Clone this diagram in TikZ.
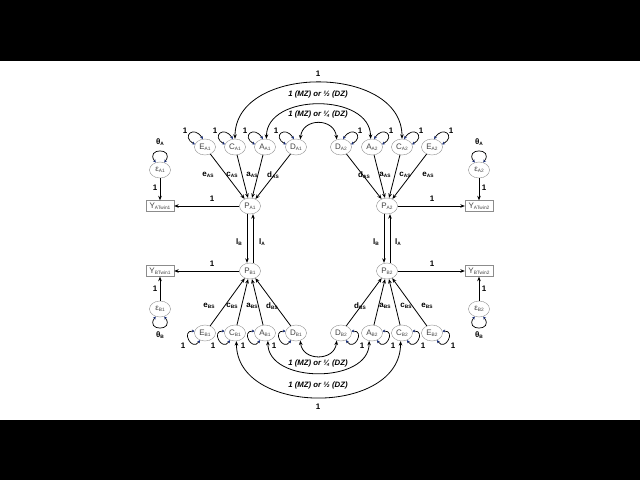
\documentclass[tikz,border=0pt]{standalone}
\usepackage{fontspec}
\setmainfont{Liberation Sans}
\usetikzlibrary{arrows.meta,shapes.geometric}
\definecolor{ndgray}{HTML}{8C8C8C}
\definecolor{txtgray}{HTML}{444444}
\definecolor{loopblue}{HTML}{1A2F7A}
\newcommand\lsub[1]{\raisebox{-0.35ex}{\fontsize{4.8}{5}\selectfont #1}}
\begin{document}
\begin{tikzpicture}[x=1pt,y=-1pt,
 lat/.style={ellipse,draw=ndgray,fill=white,minimum width=21pt,minimum height=16pt,inner sep=0pt,text=txtgray,font=\fontsize{8}{9}\selectfont},
 obs/.style={rectangle,draw=ndgray,fill=white,minimum width=28pt,minimum height=11pt,inner sep=0pt,text=txtgray,font=\fontsize{8}{9}\selectfont},
 arr/.style={-{Stealth[length=4.5pt,width=3.6pt]},line width=0.8pt},
 darr/.style={{Stealth[length=4.5pt,width=3.6pt]}-{Stealth[length=4.5pt,width=3.6pt]},line width=0.8pt},
 sloop/.style={{Stealth[length=2.8pt,width=3pt,color=loopblue]}-{Stealth[length=2.8pt,width=3pt,color=loopblue]},line width=0.7pt},
 lab/.style={font=\bfseries\fontsize{8}{9}\selectfont,inner sep=0pt},
 ilab/.style={font=\bfseries\itshape\fontsize{7.8}{9}\selectfont,inner sep=0pt},
]
% background / letterbox
\fill[black] (0,0) rectangle (640,61);
\fill[white] (0,61) rectangle (640,420);
\fill[black] (0,420) rectangle (640,480);

% latent ACE, twin 1, phenotype A
\node[lat] (EA1) at (205,147) {E\lsub{A1}};
\node[lat] (CA1) at (235,147) {C\lsub{A1}};
\node[lat] (AA1) at (265,147) {A\lsub{A1}};
\node[lat] (DA1) at (296,147) {D\lsub{A1}};
% twin 2, phenotype A
\node[lat] (DA2) at (341,147) {D\lsub{A2}};
\node[lat] (AA2) at (372,147) {A\lsub{A2}};
\node[lat] (CA2) at (402,147) {C\lsub{A2}};
\node[lat] (EA2) at (432,147) {E\lsub{A2}};
% bottom row
\node[lat] (EB1) at (205,333) {E\lsub{B1}};
\node[lat] (CB1) at (235,333) {C\lsub{B1}};
\node[lat] (AB1) at (265,333) {A\lsub{B1}};
\node[lat] (DB1) at (296,333) {D\lsub{B1}};
\node[lat] (DB2) at (341,333) {D\lsub{B2}};
\node[lat] (AB2) at (372,333) {A\lsub{B2}};
\node[lat] (CB2) at (402,333) {C\lsub{B2}};
\node[lat] (EB2) at (432,333) {E\lsub{B2}};
% phenotypes
\node[lat] (PA1) at (250,206) {P\lsub{A1}};
\node[lat] (PB1) at (250,271) {P\lsub{B1}};
\node[lat] (PA2) at (387,206) {P\lsub{A2}};
\node[lat] (PB2) at (387,271) {P\lsub{B2}};
% residuals
\node[lat] (epA1) at (160,170) {ε\lsub{A1}};
\node[lat] (epA2) at (479,170) {ε\lsub{A2}};
\node[lat] (epB1) at (160,309) {ε\lsub{B1}};
\node[lat] (epB2) at (479,309) {ε\lsub{B2}};
% observed
\node[obs] (YA1) at (160,206) {Y\lsub{ATwin1}};
\node[obs] (YB1) at (160,271) {Y\lsub{BTwin1}};
\node[obs] (YA2) at (479,206) {Y\lsub{ATwin2}};
\node[obs] (YB2) at (479,271) {Y\lsub{BTwin2}};

% paths ACE -> P
\foreach \n in {EA1,CA1,AA1,DA1}{\draw[arr] (\n) -- (PA1);}
\foreach \n in {EA2,CA2,AA2,DA2}{\draw[arr] (\n) -- (PA2);}
\foreach \n in {EB1,CB1,AB1,DB1}{\draw[arr] (\n) -- (PB1);}
\foreach \n in {EB2,CB2,AB2,DB2}{\draw[arr] (\n) -- (PB2);}

% path labels
\node[lab] (le1) at (208,175) {e\lsub{AS}};
\node[lab] (lc1) at (232,175) {c\lsub{AS}};
\node[lab] (la1) at (252,175) {a\lsub{AS}};
\node[lab] (ld1) at (273,175) {d\lsub{AS}};
\node[lab] (ld2) at (364,175) {d\lsub{AS}};
\node[lab] (la2) at (385,175) {a\lsub{AS}};
\node[lab] (lc2) at (405,175) {c\lsub{AS}};
\node[lab] (le2) at (428,175) {e\lsub{AS}};
\node[lab] (lbe1) at (209,306) {e\lsub{BS}};
\node[lab] (lbc1) at (232,306) {c\lsub{BS}};
\node[lab] (lba1) at (252,306) {a\lsub{BS}};
\node[lab] (lbd1) at (272,306) {d\lsub{BS}};
\node[lab] (lbd2) at (360,306) {d\lsub{BS}};
\node[lab] (lba2) at (385,306) {a\lsub{BS}};
\node[lab] (lbc2) at (406,306) {c\lsub{BS}};
\node[lab] (lbe2) at (427,306) {e\lsub{BS}};

% P -> Y
\draw[arr] (PA1) -- (YA1);
\draw[arr] (PB1) -- (YB1);
\draw[arr] (PA2) -- (YA2);
\draw[arr] (PB2) -- (YB2);
\node[lab] (o1) at (212,199) {1};
\node[lab] (o2) at (212,264) {1};
\node[lab] (o3) at (432,199) {1};
\node[lab] (o4) at (432,264) {1};

% residual -> Y
\draw[arr] (epA1) -- (YA1);
\draw[arr] (epB1) -- (YB1);
\draw[arr] (epA2) -- (YA2);
\draw[arr] (epB2) -- (YB2);
\node[lab] (r1) at (155,188) {1};
\node[lab] (r2) at (155,289) {1};
\node[lab] (r3) at (484,188) {1};
\node[lab] (r4) at (484,289) {1};

% residual loops + theta
\foreach \n in {epA1,epA2}{\draw[sloop] (\n.120) .. controls +(-11,-15) and +(11,-15) .. (\n.60);}
\foreach \n in {epB1,epB2}{\draw[sloop] (\n.240) .. controls +(-11,15) and +(11,15) .. (\n.300);}
\node[lab] (tA1) at (160,142) {θ\lsub{A}};
\node[lab] (tA2) at (479,142) {θ\lsub{A}};
\node[lab] (tB1) at (160,335) {θ\lsub{B}};
\node[lab] (tB2) at (479,335) {θ\lsub{B}};

% cross-lagged paths
\draw[arr] ([xshift=-3pt]PA1.south) -- ([xshift=-3pt]PB1.north);
\draw[arr] ([xshift=3pt]PB1.north) -- ([xshift=3pt]PA1.south);
\draw[arr] ([xshift=-3pt]PA2.south) -- ([xshift=-3pt]PB2.north);
\draw[arr] ([xshift=3pt]PB2.north) -- ([xshift=3pt]PA2.south);
\node[lab] (lB1) at (239,242) {l\lsub{B}};
\node[lab] (lA1) at (262,242) {l\lsub{A}};
\node[lab] (lB2) at (376,242) {l\lsub{B}};
\node[lab] (lA2) at (398,242) {l\lsub{A}};

% variance loops on latent factors
\foreach \n in {EA1,CA1,AA1,DA1}{
  \draw[sloop] (\n.165) .. controls +(-14,-8) and +(-9,-14) .. (\n.105);
  \node[lab] at ([xshift=-20pt,yshift=16pt]\n.center) {1};}
\foreach \n in {DA2,AA2,CA2,EA2}{
  \draw[sloop] (\n.15) .. controls +(14,-8) and +(9,-14) .. (\n.75);
  \node[lab] at ([xshift=19pt,yshift=16pt]\n.center) {1};}
\foreach \n in {EB1,CB1,AB1,DB1}{
  \draw[sloop] (\n.170) .. controls +(-14,-1) and +(-8,12) .. (\n.235);
  \node[lab] at ([xshift=-22pt,yshift=-13pt]\n.center) {1};}
\foreach \n in {DB2,AB2,CB2,EB2}{
  \draw[sloop] (\n.10) .. controls +(14,-1) and +(8,12) .. (\n.305);
  \node[lab] at ([xshift=21pt,yshift=-13pt]\n.center) {1};}

% twin covariances, top
\draw[darr] (CA1.north) .. controls +(0,-75) and +(0,-75) .. (CA2.north);
\draw[darr] (AA1.80) .. controls +(0,-46) and +(0,-46) .. (AA2.100);
\draw[darr] (DA1.60) .. controls +(2,-22) and +(-2,-22) .. (DA2.120);
\node[lab] (t1) at (318,74) {1};
\node[ilab] (t2) at (318,94) {1 (MZ) or ½ (DZ)};
\node[ilab] (t3) at (318,114) {1 (MZ) or ¼ (DZ)};
% twin covariances, bottom
\draw[darr] (CB1.280) .. controls +(0,75) and +(0,75) .. (CB2.260);
\draw[darr] (AB1.290) .. controls +(0,43) and +(0,43) .. (AB2.250);
\draw[darr] (DB1.300) .. controls +(2,21) and +(-2,21) .. (DB2.240);
\node[ilab] (b3) at (318,363) {1 (MZ) or ¼ (DZ)};
\node[ilab] (b2) at (318,385) {1 (MZ) or ½ (DZ)};
\node[lab] (b1) at (318,407) {1};
\end{tikzpicture}
\end{document}
